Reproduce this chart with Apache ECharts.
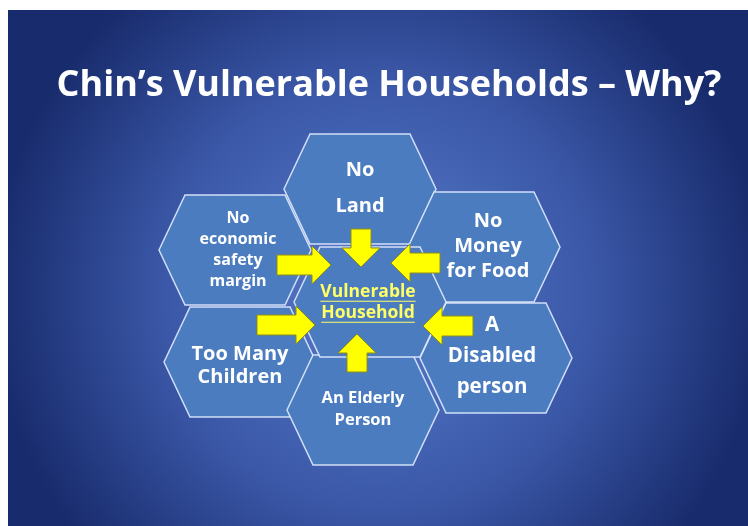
<!DOCTYPE html>
<html>
<head>
<meta charset="utf-8">
<script src="https://cdn.jsdelivr.net/npm/echarts@6/dist/echarts.min.js"></script>
<style>
  html, body { margin: 0; padding: 0; background: #fff; }
  #chart { width: 748px; height: 526px; }
</style>
</head>
<body>
<div id="chart"></div>
<script>
// hexagon cells: label text and centre (slide pixel units)
const hexLabels = ['No\nLand', 'No\neconomic\nsafety\nmargin', 'No\nMoney\nfor Food',
  'Too Many\nChildren', 'A\nDisabled\nperson', 'An Elderly\nPerson', 'Vulnerable\nHousehold']
const hexX = [360, 235, 484, 240, 496, 363, 370]
const hexY = [189, 250, 247, 362, 358, 410, 302]

// arrows pointing into the centre cell: tail -> tip
const arrowFromX = [361, 277, 440, 257, 473, 357]
const arrowFromY = [229, 265, 263, 325, 326, 372]
const arrowToX = [361, 331, 391, 315, 423, 357]
const arrowToY = [267, 265, 263, 325, 326, 334]

const FONT = '"Open Sans", Lato, sans-serif'

// per-cell text look
const labelStyle = [
  { size: 20, lh: 36, x: 0, y: -1 },
  { size: 16, lh: 21, x: 3, y: 0 },
  { size: 20, lh: 25, x: 4, y: -1 },
  { size: 20, lh: 23, x: 0, y: 4 },
  { size: 20.5, lh: 31, x: -4, y: -2 },
  { size: 16.5, lh: 22, x: 0, y: -1 },
  { size: 17.5, lh: 21, x: -2, y: 1 }
]

const measureCtx = document.createElement('canvas').getContext('2d')

const chart = echarts.init(document.getElementById('chart'))

const renderHex = (params, api) => {
  const i = api.value(2)
  const c = api.coord([api.value(0), api.value(1)])
  const s = api.size([1, 1])
  const hw = 76 * s[0], he = 50 * s[0], hh = 55 * s[1]
  const pts = [
    [c[0] - hw, c[1]], [c[0] - he, c[1] - hh], [c[0] + he, c[1] - hh],
    [c[0] + hw, c[1]], [c[0] + he, c[1] + hh], [c[0] - he, c[1] + hh]
  ]
  const st = labelStyle[i]
  const children = [{
    type: 'polygon',
    shape: { points: pts },
    style: { fill: '#4a7cbf', stroke: 'rgba(225,235,255,0.9)', lineWidth: 1.5 }
  }]
  const lines = hexLabels[i].split('\n')
  const isCentre = i === hexLabels.length - 1
  const top = c[1] + st.y - (lines.length - 1) * st.lh / 2
  lines.forEach((ln, k) => {
    const ly = top + k * st.lh
    children.push({
      type: 'text',
      x: c[0] + st.x,
      y: ly,
      z2: 5,
      style: {
        text: ln, fill: isCentre ? '#ffff66' : '#ffffff',
        fontSize: st.size, fontWeight: 'bold', fontFamily: FONT,
        align: 'center', verticalAlign: 'middle'
      }
    })
    if (isCentre) {
      measureCtx.font = 'bold ' + st.size + 'px ' + FONT
      const w = measureCtx.measureText(ln).width
      const uy = ly + st.size * 0.5
      children.push({
        type: 'line',
        z2: 5,
        shape: { x1: c[0] + st.x - w / 2, y1: uy, x2: c[0] + st.x + w / 2, y2: uy },
        style: { stroke: '#ffff66', lineWidth: 1.2 }
      })
    }
  })
  return { type: 'group', children }
}

const renderArrow = (params, api) => {
  const a = api.coord([api.value(0), api.value(1)])
  const b = api.coord([api.value(2), api.value(3)])
  const dx = b[0] - a[0], dy = b[1] - a[1]
  const len = Math.sqrt(dx * dx + dy * dy)
  const ux = dx / len, uy = dy / len
  const nx = -uy, ny = ux
  const sw = 10, hw = 19, hl = 19
  const bx = b[0] - ux * hl, by = b[1] - uy * hl
  const pts = [
    [a[0] + nx * sw, a[1] + ny * sw],
    [bx + nx * sw, by + ny * sw],
    [bx + nx * hw, by + ny * hw],
    [b[0], b[1]],
    [bx - nx * hw, by - ny * hw],
    [bx - nx * sw, by - ny * sw],
    [a[0] - nx * sw, a[1] - ny * sw]
  ]
  return {
    type: 'polygon',
    shape: { points: pts },
    style: { fill: '#ffff00', stroke: '#8c8c1a', lineWidth: 1 }
  }
}

chart.setOption({
  backgroundColor: '#ffffff',
  animation: false,
  graphic: [
    {
      type: 'rect', z: -10,
      shape: { x: 8, y: 10, width: 740, height: 516 },
      style: {
        fill: {
          type: 'radial', x: 0.5, y: 0.55, r: 0.75,
          colorStops: [
            { offset: 0, color: '#5a7bcb' },
            { offset: 0.55, color: '#3b58a8' },
            { offset: 1, color: '#182b6c' }
          ]
        }
      }
    },
    {
      type: 'text',
      x: 389, y: 86,
      style: {
        text: 'Chin\u2019s Vulnerable Households \u2013 Why?',
        fill: '#ffffff', fontSize: 36, fontWeight: 'bold', fontFamily: FONT,
        align: 'center', verticalAlign: 'middle'
      }
    }
  ],
  grid: { left: 0, right: 0, top: 0, bottom: 0 },
  xAxis: { type: 'value', min: 0, max: 748, show: false },
  yAxis: { type: 'value', min: 0, max: 526, inverse: true, show: false },
  series: [
    {
      type: 'custom',
      renderItem: renderHex,
      data: hexX.map((x, i) => [x, hexY[i], i]),
      z: 2
    },
    {
      type: 'custom',
      renderItem: renderArrow,
      data: arrowFromX.map((x, i) => [x, arrowFromY[i], arrowToX[i], arrowToY[i]]),
      z: 3
    }
  ]
})
</script>
</body>
</html>
